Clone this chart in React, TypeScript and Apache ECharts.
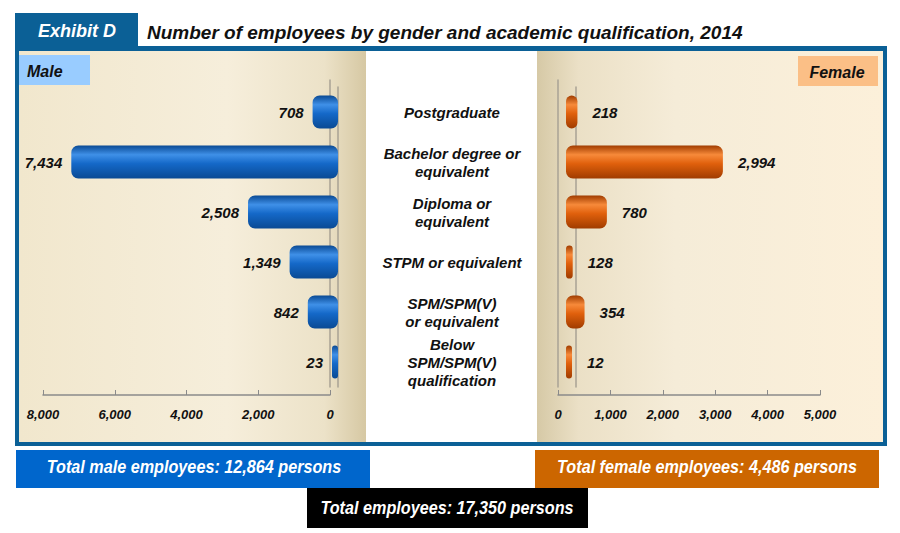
import React, { useEffect, useRef } from "react";
import * as echarts from "echarts";

const categories = [
  "Postgraduate",
  "Bachelor degree or\nequivalent",
  "Diploma or\nequivalent",
  "STPM or equivalent",
  "SPM/SPM(V)\nor equivalent",
  "Below\nSPM/SPM(V)\nqualification",
];
const maleValues = [708, 7434, 2508, 1349, 842, 23];
const femaleValues = [218, 2994, 780, 128, 354, 12];
const maleTicks = { min: 0, max: 8000, interval: 2000 };
const femaleTicks = { min: 0, max: 5000, interval: 1000 };
const titleText = "Number of employees by gender and academic qualification, 2014";
const exhibitText = "Exhibit D";
const maleTotal = "Total male employees: 12,864 persons";
const femaleTotal = "Total female employees: 4,486 persons";
const grandTotal = "Total employees: 17,350 persons";

const fmt = (v: number) => Number(v).toLocaleString("en-US");
const sans = "'Liberation Sans', Arial, sans-serif";

const cyl = (dark: string, mid: string, light: string) =>
  new echarts.graphic.LinearGradient(0, 0, 0, 1, [
    { offset: 0, color: dark },
    { offset: 0.28, color: light },
    { offset: 0.55, color: mid },
    { offset: 1, color: dark },
  ]);

export default function App() {
  const ref = useRef<HTMLDivElement>(null);
  useEffect(() => {
    if (!ref.current) return;
    const chart = echarts.init(ref.current, null, { renderer: "svg" });
    const blueBar = cyl("#0a4a94", "#1468c8", "#3f90e8");
    const orangeBar = cyl("#a03c00", "#e0600c", "#f78a3a");
    const labelStyle = {
      fontFamily: sans,
      fontWeight: "bold" as const,
      fontStyle: "italic" as const,
      fontSize: 15,
      color: "#111",
    };
    const axisLbl = {
      fontFamily: sans,
      fontWeight: "bold" as const,
      fontStyle: "italic" as const,
      fontSize: 13,
      color: "#111",
      margin: 13,
      formatter: (v: number) => fmt(v),
    };
    const wall = { show: true, lineStyle: { color: "#a8a294", width: 1.5 } };
    const totalText = (text: string, x: number, y: number) => ({
      type: "text", x, y, z: 2, scaleX: 0.9,
      style: { text, fontFamily: sans, fontWeight: "bold", fontStyle: "italic", fontSize: 18, fill: "#fff", align: "center", verticalAlign: "middle" },
    });
    const visAxis = (gridIndex: number, inverse: boolean, ticks: any) => ({
      gridIndex, type: "value", inverse, ...ticks,
      offset: 8,
      axisLine: { show: true, lineStyle: { color: "#8a8a8a", width: 1.5 } },
      axisTick: { show: true, inside: true, length: 5, lineStyle: { color: "#8a8a8a" } },
      splitLine: { show: false },
      axisLabel: axisLbl,
    });
    const hiddenX = (gridIndex: number, inverse: boolean, ticks: any) => ({
      gridIndex, type: "value", inverse, min: ticks.min, max: ticks.max, show: false, splitLine: { show: false },
    });
    chart.setOption({
      animation: false,
      backgroundColor: "#ffffff",
      graphic: [
        { type: "rect", shape: { x: 15, y: 13, width: 123, height: 37 }, style: { fill: "#0b6096" }, z: 0 },
        { type: "rect", shape: { x: 15, y: 46, width: 872, height: 400 }, style: { fill: "#0b6096" }, z: 0 },
        { type: "rect", shape: { x: 19, y: 51, width: 864, height: 391 }, style: { fill: "#ffffff" }, z: 0 },
        {
          type: "rect",
          shape: { x: 19, y: 51, width: 347, height: 391 },
          style: {
            fill: new echarts.graphic.LinearGradient(0, 0, 1, 0, [
              { offset: 0, color: "#f1e7cd" },
              { offset: 0.6, color: "#f6eedb" },
              { offset: 0.88, color: "#ece2c8" },
              { offset: 1, color: "#d6c8a3" },
            ]),
          },
          z: 0,
        },
        {
          type: "rect",
          shape: { x: 537, y: 51, width: 346, height: 391 },
          style: {
            fill: new echarts.graphic.LinearGradient(0, 0, 1, 0, [
              { offset: 0, color: "#d6c9a6" },
              { offset: 0.12, color: "#ebe0c6" },
              { offset: 0.4, color: "#f5ecd8" },
              { offset: 1, color: "#fcf0da" },
            ]),
          },
          z: 0,
        },
        { type: "rect", shape: { x: 19, y: 55, width: 71, height: 30 }, style: { fill: "#99ccff" }, z: 1 },
        { type: "rect", shape: { x: 798, y: 56, width: 80, height: 30 }, style: { fill: "#fbbf86" }, z: 1 },
        {
          type: "text", x: 27, y: 71, z: 2,
          style: { text: "Male", fontFamily: sans, fontWeight: "bold", fontStyle: "italic", fontSize: 16, fill: "#111", verticalAlign: "middle" },
        },
        {
          type: "text", x: 837, y: 72, z: 2,
          style: { text: "Female", fontFamily: sans, fontWeight: "bold", fontStyle: "italic", fontSize: 16, fill: "#111", align: "center", verticalAlign: "middle" },
        },
        {
          type: "text", x: 77, y: 31, z: 2,
          style: { text: exhibitText, fontFamily: sans, fontWeight: "bold", fontStyle: "italic", fontSize: 18, fill: "#ffffff", align: "center", verticalAlign: "middle" },
        },
        {
          type: "text", x: 147, y: 32, z: 2,
          style: { text: titleText, fontFamily: sans, fontWeight: "bold", fontStyle: "italic", fontSize: 19, fill: "#111", verticalAlign: "middle" },
        },
        { type: "rect", shape: { x: 16, y: 450, width: 354, height: 38 }, style: { fill: "#0066cc" }, z: 1 },
        { type: "rect", shape: { x: 535, y: 450, width: 344, height: 38 }, style: { fill: "#cc6600" }, z: 1 },
        { type: "rect", shape: { x: 307, y: 488, width: 281, height: 40 }, style: { fill: "#000000" }, z: 1 },
        totalText(maleTotal, 194, 467),
        totalText(femaleTotal, 707, 467),
        totalText(grandTotal, 447, 508),
      ],
      grid: [
        { left: 43, right: 570, top: 80, bottom: 146 },
        { left: 558, right: 80, top: 80, bottom: 146 },
        { left: 51, right: 562, top: 87, bottom: 146 },
        { left: 566, right: 72, top: 87, bottom: 146 },
      ],
      xAxis: [
        visAxis(0, true, maleTicks),
        visAxis(1, false, femaleTicks),
        hiddenX(2, true, maleTicks),
        hiddenX(3, false, femaleTicks),
      ],
      yAxis: [
        {
          gridIndex: 0, type: "category", data: categories, inverse: true, position: "right", offset: 0,
          axisLine: wall, axisTick: { show: false }, axisLabel: { show: false },
        },
        {
          gridIndex: 1, type: "category", data: categories, inverse: true, position: "left", offset: 0,
          axisLine: wall, axisTick: { show: false }, axisLabel: { show: false },
        },
        {
          gridIndex: 2, type: "category", data: categories, inverse: true, position: "right",
          offset: 9,
          axisLine: wall,
          axisTick: { show: false },
          axisLabel: { show: false },
        },
        {
          gridIndex: 3, type: "category", data: categories, inverse: true, position: "left",
          offset: -10,
          axisLine: wall,
          axisTick: { show: false },
          axisLabel: {
            show: true,
            margin: 124,
            align: "center",
            lineHeight: 18,
            fontFamily: sans,
            fontWeight: "bold",
            fontStyle: "italic",
            fontSize: 15,
            color: "#111",
          },
        },
      ],
      series: [
        {
          type: "bar", xAxisIndex: 2, yAxisIndex: 2, data: maleValues, barWidth: 33, barMinHeight: 6,
          itemStyle: { color: blueBar, borderRadius: 7 },
          label: { show: true, position: "left", distance: 9, ...labelStyle, formatter: (p: any) => fmt(p.value) },
        },
        {
          type: "bar", xAxisIndex: 3, yAxisIndex: 3, data: femaleValues, barWidth: 33, barMinHeight: 6,
          itemStyle: { color: orangeBar, borderRadius: 7 },
          label: { show: true, position: "right", distance: 15, ...labelStyle, formatter: (p: any) => fmt(p.value) },
        },
      ],
    });
    return () => chart.dispose();
  }, []);
  return (
    <div
      ref={ref}
      style={{ position: "fixed", left: 0, top: 0, width: 900, height: 533 }}
    />
  );
}
